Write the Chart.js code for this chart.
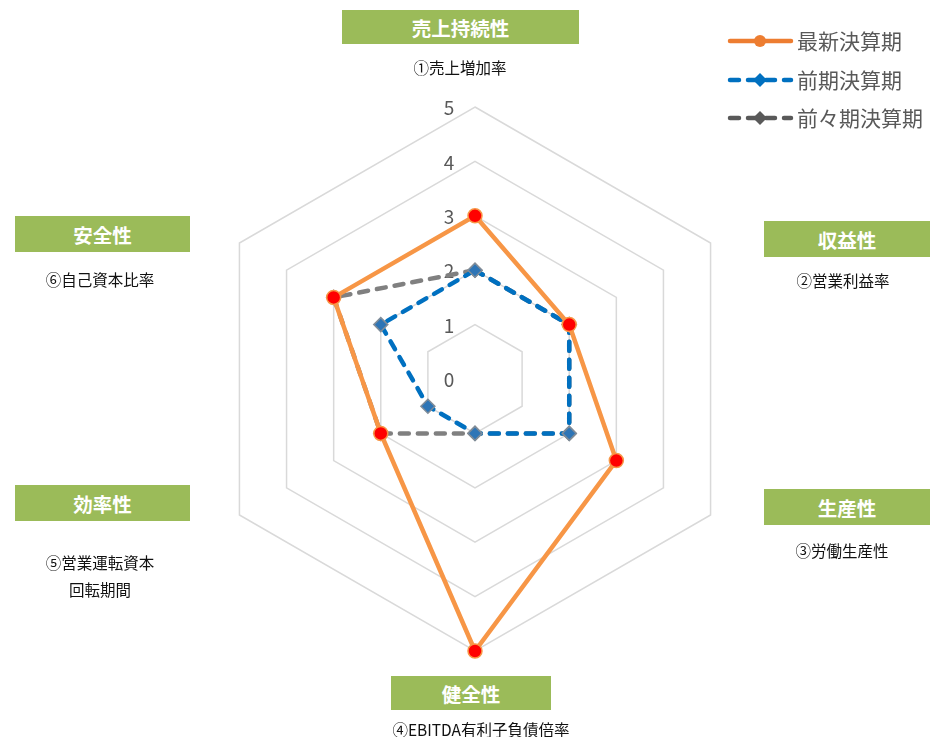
<!DOCTYPE html>
<html lang="ja">
<head>
<meta charset="utf-8">
<script src="https://cdn.jsdelivr.net/npm/chart.js@4"></script>
<style>
html, body { margin: 0; padding: 0; background: #fff; }
#wrap { position: relative; width: 930px; height: 737px; font-family: "Noto Sans CJK JP", sans-serif; }
#myChart { position: absolute; left: 0; top: 0; }
.box { position: absolute; background: #9BBB59; color: #fff; font-weight: bold; font-size: 19.5px;
       display: flex; align-items: center; justify-content: center; }
.sub { position: absolute; width: 240px; color: #111; font-size: 15.5px; text-align: center; line-height: 27px; }
</style>
</head>
<body>
<div id="wrap">
  <canvas id="myChart" width="930" height="737"></canvas>
</div>
<script>
const categories = ['売上持続性', '収益性', '生産性', '健全性', '効率性', '安全性']
const indicators = [
    ['①売上増加率'],
    ['②営業利益率'],
    ['③労働生産性'],
    ['④EBITDA有利子負債倍率'],
    ['⑤営業運転資本', '回転期間'],
    ['⑥自己資本比率']
]
const seriesNames = ['最新決算期', '前期決算期', '前々期決算期']
const latest = [3, 2, 3, 5, 2, 3]
const previous = [2, 2, 2, 1, 1, 2]
const twoBefore = [2, 2, 2, 1, 2, 3]
const tickLabels = [0, 1, 2, 3, 4, 5]

// where the green category boxes sit (box rect, subtitle centre)
const boxLayout = [
    { x: 342, y: 10, w: 237, h: 34, cx: 460, cy: 67 },
    { x: 764, y: 221, w: 166, h: 36, cx: 843, cy: 280 },
    { x: 764, y: 489, w: 166, h: 36, cx: 842, cy: 550 },
    { x: 391, y: 676, w: 160, h: 34, cx: 481, cy: 729 },
    { x: 15, y: 485, w: 175, h: 36, cx: 100, cy: 562 },
    { x: 15, y: 216, w: 175, h: 36, cx: 100, cy: 279 }
]

const wrap = document.getElementById('wrap')
categories.forEach((name, i) => {
    const b = boxLayout[i]
    const box = document.createElement('div')
    box.className = 'box'
    box.style.left = b.x + 'px'
    box.style.top = b.y + 'px'
    box.style.width = b.w + 'px'
    box.style.height = b.h + 'px'
    box.textContent = name
    wrap.appendChild(box)

    const sub = document.createElement('div')
    sub.className = 'sub'
    sub.style.left = (b.cx - 120) + 'px'
    sub.style.top = (b.cy - 13.5) + 'px'
    sub.innerHTML = indicators[i].join('<br>')
    wrap.appendChild(sub)
})

// tick numbers up the top spoke, 0 included
const tickPlugin = {
    id: 'tickNumbers',
    beforeDatasetsDraw(chart) {
        const ctx = chart.ctx
        const scale = chart.scales.r
        ctx.save()
        ctx.font = '19px "Noto Sans CJK JP", sans-serif'
        ctx.fillStyle = '#595959'
        ctx.textAlign = 'center'
        ctx.textBaseline = 'middle'
        tickLabels.forEach(v => {
            const p = scale.getPointPositionForValue(0, v)
            ctx.fillText(String(v), p.x - 26, p.y + 1)
        })
        ctx.restore()
    }
}

// legend: line with marker in the middle, top right
const legendPlugin = {
    id: 'lineLegend',
    afterDraw(chart) {
        const ctx = chart.ctx
        const rows = [41, 80, 118]
        ctx.save()
        chart.data.datasets.forEach((ds, i) => {
            const y = rows[i]
            ctx.strokeStyle = ds.legendColor
            ctx.lineWidth = 4.5
            ctx.lineCap = 'round'
            ctx.setLineDash(ds.borderDash || [])
            ctx.beginPath()
            ctx.moveTo(730, y)
            ctx.lineTo(791, y)
            ctx.stroke()
            ctx.setLineDash([])
            ctx.fillStyle = ds.legendColor
            ctx.beginPath()
            if (ds.pointStyle === 'circle') {
                ctx.arc(760, y, 6, 0, Math.PI * 2)
            } else {
                ctx.moveTo(760, y - 7)
                ctx.lineTo(767, y)
                ctx.lineTo(760, y + 7)
                ctx.lineTo(753, y)
                ctx.closePath()
            }
            ctx.fill()
            ctx.font = '21px "Noto Sans CJK JP", sans-serif'
            ctx.fillStyle = '#595959'
            ctx.textAlign = 'left'
            ctx.textBaseline = 'middle'
            ctx.fillText(ds.label, 797, y)
        })
        ctx.restore()
    }
}

let myChart = document.getElementById('myChart').getContext('2d')
let radarChart = new Chart(myChart, {
    type: 'radar',
    data: {
        labels: categories,
        datasets: [{
            label: seriesNames[0],
            data: latest,
            borderColor: '#F79646',
            legendColor: '#ED7D31',
            borderWidth: 4.5,
            fill: false,
            pointStyle: 'circle',
            pointRadius: 7,
            pointBackgroundColor: '#FF0000',
            pointBorderColor: '#F79646',
            pointBorderWidth: 1.5
        }, {
            label: seriesNames[1],
            data: previous,
            borderColor: '#0070C0',
            legendColor: '#0070C0',
            borderWidth: 4.5,
            borderDash: [9, 9],
            borderCapStyle: 'round',
            fill: false,
            pointStyle: 'rectRot',
            pointRadius: 7,
            pointBackgroundColor: '#2E75B6',
            pointBorderColor: '#7F8C99',
            pointBorderWidth: 1.5
        }, {
            label: seriesNames[2],
            data: twoBefore,
            borderColor: '#808080',
            legendColor: '#595959',
            borderWidth: 4.5,
            borderDash: [9, 9],
            borderCapStyle: 'round',
            fill: false,
            pointStyle: 'rectRot',
            pointRadius: 7,
            pointBackgroundColor: '#808080',
            pointBorderColor: '#808080',
            pointBorderWidth: 1.5
        }]
    },
    options: {
        responsive: false,
        animation: false,
        layout: {
            padding: { left: 203, right: 183, top: 107, bottom: 86 }
        },
        plugins: {
            legend: { display: false },
            tooltip: { enabled: false }
        },
        scales: {
            r: {
                min: 0,
                max: 5,
                ticks: { stepSize: 1, display: false },
                grid: { color: '#D9D9D9', lineWidth: 1.5 },
                angleLines: { display: false },
                pointLabels: { display: false }
            }
        }
    },
    plugins: [tickPlugin, legendPlugin]
})
</script>
</body>
</html>
